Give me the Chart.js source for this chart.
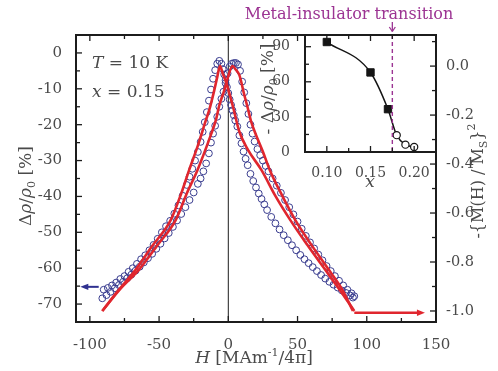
<!DOCTYPE html>
<html><head><meta charset="utf-8">
<script src="https://cdn.jsdelivr.net/npm/chart.js@4.4.1/dist/chart.umd.min.js"></script>
<style>
html,body{margin:0;padding:0;background:#fff;}
#wrap{position:relative;width:498px;height:371px;overflow:hidden;}
#main{position:absolute;left:0;top:0;}
#inset{position:absolute;left:220px;top:0;}
</style></head><body>
<div id="wrap"><canvas id="main" width="498" height="371"></canvas><canvas id="inset" width="278" height="190"></canvas></div>
<script>
// ---------- data: magnetoresistance (blue circles), two field-sweep branches ----------
const fieldA = [-90,-87,-84,-81,-78,-75,-72,-69,-66,-63,-60,-57,-54,-51,-48,-45,-42,-39,-36,-33,-30,-28,-26,-24,-22,-20,-18.5,-17,-15.5,-14,-12.5,-11,-9.5,-8,-6.5,-5,-4,-3,-2,-1,0,1,2,3,4,5,6.5,8,9.5,11,12.5,14,16,18,20,22,24,26,28,31,34,37,40,43,46,49,52,55,58,61,64,67,70,73,76,79,82,85,88,90];
const rhoA = [-66.0,-65.5,-64.8,-64.0,-63.0,-62.2,-61.0,-60.0,-58.8,-57.5,-56.4,-55.0,-53.5,-51.8,-50.0,-48.3,-46.8,-44.8,-42.5,-39.8,-36.8,-34.5,-32.3,-30.0,-27.6,-24.8,-22.0,-19.3,-16.5,-13.3,-10.2,-7.2,-4.8,-3.0,-2.2,-3.0,-4.5,-6.0,-7.6,-9.5,-11.2,-13.0,-14.5,-16.0,-17.4,-18.8,-20.5,-23.0,-25.2,-27.5,-29.5,-31.3,-33.7,-35.7,-37.5,-39.2,-40.7,-42.2,-43.8,-45.7,-47.5,-49.2,-50.8,-52.2,-53.6,-55.0,-56.3,-57.5,-58.6,-59.7,-60.8,-61.9,-62.9,-63.8,-64.6,-65.4,-66.2,-66.9,-67.6,-68.2];
const fieldB = [-91,-88,-85,-82,-79,-76,-73,-70,-67,-64,-61,-58,-55,-52,-49,-46,-43,-40,-37,-34,-31,-28,-25,-22,-20,-18,-16,-14,-12.5,-11,-9.5,-8,-6.5,-5,-3.5,-2,-0.5,1,2.5,4,5.5,7,8.5,10,11.5,13,14.5,16,17.5,19,21,23,25,27,29,32,35,38,41,44,47,50,53,56,59,62,65,68,71,74,77,80,83,86,89,91];
const rhoB = [-68.4,-67.5,-66.6,-65.6,-64.7,-63.8,-62.8,-61.8,-60.7,-59.6,-58.4,-57.2,-56.0,-54.6,-53.2,-51.7,-50.2,-48.5,-46.7,-44.9,-43.0,-41.0,-38.9,-36.5,-35.0,-33.0,-30.8,-28.0,-25.0,-22.5,-20.3,-17.8,-15.0,-12.8,-10.8,-8.4,-5.7,-3.8,-3.0,-2.8,-2.8,-3.2,-5.0,-8.0,-11.0,-14.0,-17.0,-20.0,-22.5,-24.7,-26.8,-28.5,-30.0,-31.5,-33.0,-35.0,-37.0,-39.0,-41.0,-43.0,-45.0,-47.0,-49.0,-51.0,-52.8,-54.5,-56.2,-57.8,-59.4,-60.8,-62.2,-63.5,-64.8,-66.0,-67.0,-67.8];
// ---------- data: -(M/Ms)^2 (red lines, right axis) ----------
const redFieldA = [-91,-80,-67,-55,-41.6,-34,-28.3,-22,-16.2,-13.8,-10.2,-8,-6,-4,-1.7,3.1,8,14,24,34,44.8,57,70,80,91];
const redMagA = [-1.0,-0.92,-0.832,-0.735,-0.629,-0.52,-0.425,-0.325,-0.221,-0.18,-0.10,-0.045,0.0,-0.03,-0.064,-0.16,-0.268,-0.34,-0.425,-0.53,-0.629,-0.73,-0.832,-0.91,-1.0];
const redFieldB = [-91,-78,-64.6,-51,-38,-30,-22.3,-12.6,-9,-6.5,-3,-0.5,3,5.5,8,11.6,14,16.5,20,25,30,39,48.4,60,72.6,82,90];
const redMagB = [-1.0,-0.91,-0.832,-0.73,-0.629,-0.52,-0.425,-0.281,-0.221,-0.16,-0.10,-0.05,0.0,-0.015,-0.037,-0.119,-0.17,-0.227,-0.281,-0.35,-0.425,-0.53,-0.629,-0.73,-0.832,-0.91,-1.0];
// ---------- inset data ----------
const dopingMetal = [0.10, 0.15, 0.17];
const mrMetal = [94, 68, 36.6];
const dopingInsul = [0.18, 0.19, 0.20];
const mrInsul = [14.4, 6.3, 4.3];
const transitionX = 0.175;
// ---------- ticks ----------
const xMajor = [-100,-50,0,50,100,150];
const xMinor = [-75,-25,25,75,125];
const yMajor = [0,-10,-20,-30,-40,-50,-60,-70];
const yMinor = [-5,-15,-25,-35,-45,-55,-65];
const y2Major = [0,-0.2,-0.4,-0.6,-0.8,-1.0];
const y2Minor = [0.1,-0.1,-0.3,-0.5,-0.7,-0.9];
const insetXMajor = [0.10,0.15,0.20];
const insetXMinor = [0.125,0.175];
const insetYMajor = [0,30,60,90];
const insetYMinor = [15,45,75];
// annotation anchors (data units)
const leftArrowRho = -65.2, leftArrowFrom = -93.6, leftArrowTo = -106.9;
const rightArrowMag = -1.007, rightArrowFrom = 91, rightArrowTo = 142;

const FONT = '"DejaVu Serif", serif';
const TXT = '#4a4a4a';
const AXIS = '#1c1c1c';
const BLUE = '#3a3d8f';
const RED = '#e0262e';
const PURPLE = '#9c3493';

const pts = (xs, ys) => xs.map((v,i)=>({x:v,y:ys[i]}));
const sortNum = a => a.slice().sort((p,q)=>p-q);

function rich(ctx, parts, x, y, rot, align, color){
  ctx.save(); ctx.translate(x,y); ctx.rotate(rot||0); ctx.fillStyle=color||TXT; ctx.textBaseline='alphabetic'; ctx.textAlign='left';
  let w=0; parts.forEach(p=>{ctx.font=p.f; w+=ctx.measureText(p.t).width;});
  let cx = align==='left'?0:-w/2;
  parts.forEach(p=>{ctx.font=p.f; ctx.fillText(p.t,cx,p.dy||0); cx+=ctx.measureText(p.t).width;});
  ctx.restore();
}
function seg(ctx,x1,y1,x2,y2){ctx.beginPath();ctx.moveTo(x1,y1);ctx.lineTo(x2,y2);ctx.stroke();}
function arrow(ctx,x1,y,x2,color,w){
  ctx.save(); ctx.strokeStyle=color; ctx.fillStyle=color; ctx.lineWidth=w;
  const dir = Math.sign(x2-x1), hl=8, hw=3.2;
  seg(ctx,x1,y,x2-dir*hl*0.6,y);
  ctx.beginPath(); ctx.moveTo(x2,y); ctx.lineTo(x2-dir*hl,y-hw); ctx.lineTo(x2-dir*hl,y+hw); ctx.closePath(); ctx.fill();
  ctx.restore();
}

const F = (s,st)=> (st||'') + ' ' + s + 'px ' + FONT;

const mainDecor = {
  id:'mainDecor',
  beforeDatasetsDraw(chart){
    const {ctx, chartArea:a, scales:{x}} = chart;
    const px = x.getPixelForValue(0);
    ctx.save(); ctx.strokeStyle=AXIS; ctx.lineWidth=1; seg(ctx,px,a.top,px,a.bottom); ctx.restore();
  },
  afterDraw(chart){
    const {ctx, chartArea:a, scales:{x,y,y2}} = chart;
    ctx.save();
    ctx.strokeStyle=AXIS; ctx.lineWidth=2;
    ctx.strokeRect(a.left,a.top,a.right-a.left,a.bottom-a.top);
    ctx.lineWidth=1.3;
    x.ticks.forEach(t=>{ if(t.value<=x.min||t.value>=x.max) return;
      const p=x.getPixelForValue(t.value), L=xMajor.includes(t.value)?6:4;
      seg(ctx,p,a.bottom,p,a.bottom-L); if(p<300) seg(ctx,p,a.top,p,a.top+L);});
    y.ticks.forEach(t=>{ if(t.value<=y.min||t.value>=y.max) return;
      const p=y.getPixelForValue(t.value), L=yMajor.includes(t.value)?6:4;
      seg(ctx,a.left,p,a.left+L,p);});
    y2.ticks.forEach(t=>{ if(t.value<=y2.min||t.value>=y2.max) return;
      const p=y2.getPixelForValue(t.value), L=y2Major.includes(t.value)?6:4;
      seg(ctx,a.right,p,a.right-L,p);});
    ctx.restore();
    // arrows
    arrow(ctx, x.getPixelForValue(leftArrowFrom), y.getPixelForValue(leftArrowRho), x.getPixelForValue(leftArrowTo), '#2f3190', 2);
    arrow(ctx, x.getPixelForValue(rightArrowFrom), y2.getPixelForValue(rightArrowMag), x.getPixelForValue(rightArrowTo), RED, 2.4);
    // annotations
    rich(ctx,[{t:'T',f:F(17,'italic')},{t:' = 10 K',f:F(17)}],92,68,0,'left');
    rich(ctx,[{t:'x',f:F(17,'italic')},{t:' = 0.15',f:F(17)}],92,97,0,'left');
    // axis titles
    rich(ctx,[{t:'H',f:F(17,'italic')},{t:' [MAm',f:F(17)},{t:'-1',f:F(11),dy:-7},{t:'/4π]',f:F(17)}],254,363,0);
    rich(ctx,[{t:'Δ',f:F(17)},{t:'ρ',f:F(17,'italic')},{t:'/',f:F(17)},{t:'ρ',f:F(17,'italic')},{t:'0',f:F(11),dy:4},{t:' [%]',f:F(17)}],31,186,-Math.PI/2);
    rich(ctx,[{t:'-{M(H) / M',f:F(16)},{t:'S',f:F(11),dy:4},{t:'}',f:F(16)},{t:'2',f:F(11),dy:-8}],483,181,-Math.PI/2);
  }
};

new Chart(document.getElementById('main'), {
  type:'scatter',
  data:{datasets:[
    {label:'M2 A', data:pts(redFieldA,redMagA), yAxisID:'y2', showLine:true, pointRadius:0, borderColor:RED, borderWidth:2.6, cubicInterpolationMode:'monotone', fill:false},
    {label:'M2 B', data:pts(redFieldB,redMagB), yAxisID:'y2', showLine:true, pointRadius:0, borderColor:RED, borderWidth:2.6, cubicInterpolationMode:'monotone', fill:false},
    {label:'MR A', data:pts(fieldA,rhoA), yAxisID:'y', showLine:false, pointRadius:3.4, pointBorderWidth:1, borderColor:BLUE, backgroundColor:'rgba(255,255,255,0)'},
    {label:'MR B', data:pts(fieldB,rhoB), yAxisID:'y', showLine:false, pointRadius:3.4, pointBorderWidth:1, borderColor:BLUE, backgroundColor:'rgba(255,255,255,0)'}
  ]},
  options:{
    responsive:false, animation:false, events:[],
    layout:{padding:{top:35,left:0,right:0,bottom:0}},
    plugins:{legend:{display:false},tooltip:{enabled:false}},
    scales:{
      x:{type:'linear',position:'bottom',min:-110,max:150,grid:{display:false},border:{display:false},
        afterBuildTicks:s=>{s.ticks=sortNum(xMajor.concat(xMinor)).map(v=>({value:v}));},
        afterFit:s=>{s.height=49;},
        ticks:{autoSkip:false,maxRotation:0,padding:6,color:TXT,font:{family:FONT,size:15},callback:v=>xMajor.includes(v)?String(v):''}},
      y:{type:'linear',position:'left',min:-75,max:5,grid:{display:false},border:{display:false},
        afterBuildTicks:s=>{s.ticks=sortNum(yMajor.concat(yMinor)).map(v=>({value:v}));},
        afterFit:s=>{s.width=76;},
        ticks:{autoSkip:false,padding:6,color:TXT,font:{family:FONT,size:15},callback:v=>yMajor.includes(v)?String(v):''}},
      y2:{type:'linear',position:'right',min:-1.045,max:0.127,grid:{display:false},border:{display:false},
        afterBuildTicks:s=>{s.ticks=sortNum(y2Major.concat(y2Minor)).map(v=>({value:v}));},
        afterFit:s=>{s.width=62;},
        ticks:{autoSkip:false,padding:2,color:TXT,font:{family:FONT,size:14.5},callback:v=>y2Major.includes(v)?(v===0?'0.0':v.toFixed(1)):''}}
    }
  },
  plugins:[mainDecor]
});

const insetDecor = {
  id:'insetDecor',
  afterDraw(chart){
    const {ctx, chartArea:a, scales:{x,y}} = chart;
    ctx.save();
    // dashed transition line
    const px = x.getPixelForValue(transitionX);
    ctx.strokeStyle=PURPLE; ctx.lineWidth=1.4; ctx.setLineDash([4,3]);
    seg(ctx,px,a.top,px,a.bottom); ctx.setLineDash([]);
    // arrow above
    ctx.lineWidth=1.3; seg(ctx,px,22,px,31.5);
    seg(ctx,px-3,27,px,31.5); seg(ctx,px+3,27,px,31.5);
    // frame & ticks
    ctx.strokeStyle=AXIS; ctx.lineWidth=2;
    ctx.strokeRect(a.left,a.top,a.right-a.left,a.bottom-a.top);
    ctx.lineWidth=1.3;
    x.ticks.forEach(t=>{ if(t.value<=x.min||t.value>=x.max) return;
      const p=x.getPixelForValue(t.value), L=insetXMajor.includes(t.value)?6:4;
      seg(ctx,p,a.bottom,p,a.bottom-L); seg(ctx,p,a.top,p,a.top+L);});
    y.ticks.forEach(t=>{ if(t.value<=y.min||t.value>=y.max) return;
      const p=y.getPixelForValue(t.value), L=insetYMajor.includes(t.value)?6:4;
      seg(ctx,a.left,p,a.left+L,p);});
    ctx.restore();
    rich(ctx,[{t:'Metal-insulator transition',f:F(16)}],129,19,0,'center',PURPLE);
    rich(ctx,[{t:'x',f:F(17,'italic')}],150,187,0);
    rich(ctx,[{t:'- Δ',f:F(17)},{t:'ρ',f:F(17,'italic')},{t:'/',f:F(17)},{t:'ρ',f:F(17,'italic')},{t:'0',f:F(11),dy:4},{t:' [%]',f:F(17)}],53,89,-Math.PI/2);
  }
};

new Chart(document.getElementById('inset'), {
  type:'scatter',
  data:{datasets:[
    {label:'metal', data:pts(dopingMetal,mrMetal), pointStyle:'rect', pointRadius:5.2, backgroundColor:'#151515', borderColor:'#151515', pointBorderWidth:1},
    {label:'insulator', data:pts(dopingInsul,mrInsul), pointStyle:'circle', pointRadius:3.6, backgroundColor:'#ffffff', borderColor:'#151515', pointBorderWidth:1.2},
    {label:'guide', data:pts(dopingMetal.concat(dopingInsul), mrMetal.concat(mrInsul)), showLine:true, pointRadius:0, borderColor:'#151515', borderWidth:1.5, cubicInterpolationMode:'monotone'}
  ]},
  options:{
    responsive:false, animation:false, events:[],
    layout:{padding:{top:35,right:62,left:0,bottom:0}},
    plugins:{legend:{display:false},tooltip:{enabled:false}},
    scales:{
      x:{type:'linear',min:0.075,max:0.225,grid:{display:false},border:{display:false},
        afterBuildTicks:s=>{s.ticks=sortNum(insetXMajor.concat(insetXMinor)).map(v=>({value:v}));},
        afterFit:s=>{s.height=38;},
        ticks:{autoSkip:false,maxRotation:0,padding:5,color:TXT,font:{family:FONT,size:14},callback:v=>insetXMajor.includes(v)?v.toFixed(2):''}},
      y:{type:'linear',min:0,max:100,grid:{display:false},border:{display:false},
        afterBuildTicks:s=>{s.ticks=sortNum(insetYMajor.concat(insetYMinor)).map(v=>({value:v}));},
        afterFit:s=>{s.width=85;},
        ticks:{autoSkip:false,padding:7,color:TXT,font:{family:FONT,size:14},callback:v=>insetYMajor.includes(v)?String(v):''}}
    }
  },
  plugins:[insetDecor]
});
</script>
</body></html>
